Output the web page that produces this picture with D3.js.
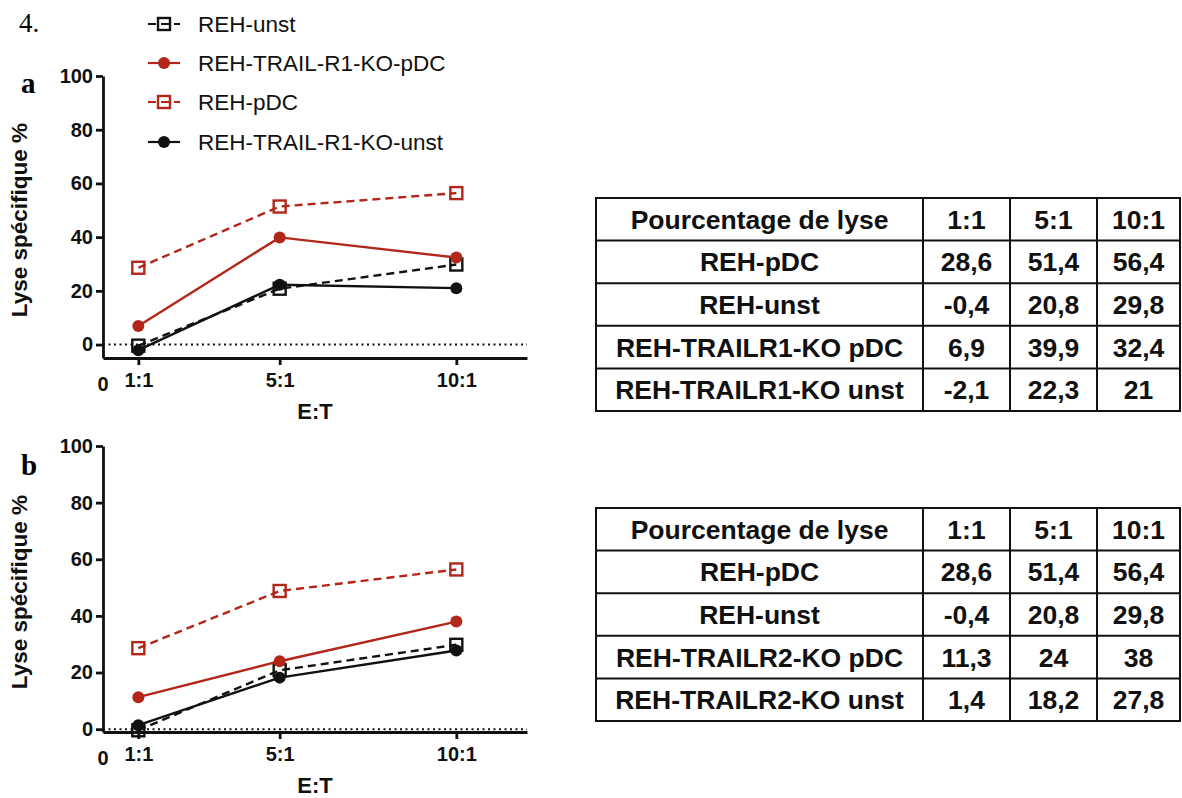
<!DOCTYPE html>
<html>
<head>
<meta charset="utf-8">
<script src="https://cdn.jsdelivr.net/npm/d3@7"></script>
<style>
  body { margin: 0; background: #fff; }
  svg { display: block; }
</style>
</head>
<body>
<div id="chart"></div>
<script>
// data
var etLabels = ["1:1", "5:1", "10:1"];
var etValues = [1, 5, 10];
var yTicks = [0, 20, 40, 60, 80, 100];

var rehPdc = [28.6, 51.4, 56.4];
var rehUnst = [-0.4, 20.8, 29.8];
var r1KoPdc = [6.9, 39.9, 32.4];
var r1KoUnst = [-2.1, 22.3, 21];
var r2KoPdc = [11.3, 24, 38];
var r2KoUnst = [1.4, 18.2, 27.8];
// panel b plots REH-pDC a bit lower at 5:1 than its table says
var rehPdcPlotB = [28.6, 48.8, 56.4];

var legendLabels = ["REH-unst", "REH-TRAIL-R1-KO-pDC", "REH-pDC", "REH-TRAIL-R1-KO-unst"];
var tableHeader = ["Pourcentage de lyse", "1:1", "5:1", "10:1"];
var tableRowsA = ["REH-pDC", "REH-unst", "REH-TRAILR1-KO pDC", "REH-TRAILR1-KO unst"];
var tableRowsB = ["REH-pDC", "REH-unst", "REH-TRAILR2-KO pDC", "REH-TRAILR2-KO unst"];

var red = "#b3261a";
var sans = "'Liberation Sans', Arial, sans-serif";
var serif = "'Liberation Serif', 'Times New Roman', serif";

// series style, same order as the legend
var styles = [
  { color: "#111", dash: "8,5", shape: "square" },
  { color: red, dash: null, shape: "circle" },
  { color: red, dash: "8,5", shape: "square" },
  { color: "#111", dash: null, shape: "circle" }
];

var svg = d3.select("#chart").append("svg")
  .attr("width", 1182)
  .attr("height", 798);

svg.append("text")
  .attr("x", 19).attr("y", 32)
  .style("font-family", serif)
  .style("font-size", "27px")
  .text("4.");

// legend
var legend = svg.append("g");
var legendY = [24, 63, 102, 142];
legendLabels.forEach(function (lab, i) {
  var st = styles[i];
  var g = legend.append("g").attr("transform", "translate(0," + legendY[i] + ")");
  g.append("line")
    .attr("x1", 148).attr("x2", 180)
    .attr("stroke", st.color).attr("stroke-width", 2.2)
    .attr("stroke-dasharray", st.dash);
  drawMarker(g, st, 164, 0);
  g.append("text")
    .attr("x", 198).attr("y", 0)
    .attr("dy", "0.35em")
    .style("font-family", sans)
    .style("font-size", "22.5px")
    .style("fill", "#111")
    .text(lab);
});

function drawMarker(g, st, cx, cy) {
  if (st.shape == "square") {
    g.append("rect")
      .attr("x", cx - 6).attr("y", cy - 6)
      .attr("width", 12).attr("height", 12)
      .attr("fill", "none")
      .attr("stroke", st.color).attr("stroke-width", 2.4);
  } else {
    g.append("circle")
      .attr("cx", cx).attr("cy", cy).attr("r", 6)
      .attr("fill", st.color);
  }
}

function drawPanel(letter, letterY, yRange, yMin, series) {
  var x = d3.scaleLinear().domain([0, 12]).range([103, 527]);
  var y = d3.scaleLinear().domain([yMin, 100]).range(yRange);
  var g = svg.append("g");

  svg.append("text")
    .attr("x", 21).attr("y", letterY)
    .style("font-family", serif)
    .style("font-weight", "bold")
    .style("font-size", "29px")
    .text(letter);

  // zero line
  g.append("line")
    .attr("x1", x(0)).attr("x2", x(12))
    .attr("y1", y(0)).attr("y2", y(0))
    .attr("stroke", "#111").attr("stroke-width", 2)
    .attr("stroke-dasharray", "2,3.5");

  var yAxis = g.append("g")
    .attr("transform", "translate(" + x(0) + ",0)")
    .call(d3.axisLeft(y).tickValues(yTicks).tickSize(7).tickSizeOuter(0).tickPadding(3));
  var xAxis = g.append("g")
    .attr("transform", "translate(0," + y(yMin) + ")")
    .call(d3.axisBottom(x).tickValues(etValues).tickSize(7).tickSizeOuter(0).tickPadding(8)
      .tickFormat(function (d, i) { return etLabels[i]; }));

  [yAxis, xAxis].forEach(function (ax) {
    ax.selectAll("path, line").attr("stroke", "#111").attr("stroke-width", 2.8);
    ax.selectAll("text")
      .style("font-family", sans)
      .style("font-weight", "bold")
      .style("font-size", "20px")
      .attr("fill", "#111");
  });

  g.append("text")
    .attr("x", x(0)).attr("y", y(yMin) + 33)
    .attr("text-anchor", "middle")
    .style("font-family", sans).style("font-weight", "bold").style("font-size", "20px")
    .attr("fill", "#111")
    .text("0");

  g.append("text")
    .attr("x", (x(0) + x(12)) / 2).attr("y", y(yMin) + 61)
    .attr("text-anchor", "middle")
    .style("font-family", sans).style("font-weight", "bold").style("font-size", "22px")
    .attr("fill", "#111")
    .text("E:T");

  var midY = (yRange[0] + yRange[1]) / 2 + 3;
  g.append("text")
    .attr("transform", "translate(27," + midY + ") rotate(-90)")
    .attr("text-anchor", "middle")
    .style("font-family", sans).style("font-weight", "bold").style("font-size", "22.5px")
    .attr("fill", "#111")
    .text("Lyse spécifique %");

  var line = d3.line()
    .x(function (d, i) { return x(etValues[i]); })
    .y(function (d) { return y(d); });

  series.forEach(function (vals, k) {
    var st = styles[k];
    g.append("path")
      .datum(vals)
      .attr("d", line)
      .attr("fill", "none")
      .attr("stroke", st.color).attr("stroke-width", 2.4)
      .attr("stroke-dasharray", st.dash);
    vals.forEach(function (v, i) {
      drawMarker(g, st, x(etValues[i]), y(v));
    });
  });
}

drawPanel("a", 93, [358, 76], -5, [rehUnst, r1KoPdc, rehPdc, r1KoUnst]);
drawPanel("b", 475, [732, 446], -1, [rehUnst, r2KoPdc, rehPdcPlotB, r2KoUnst]);

function fmt(v) { return String(v).replace(".", ","); }

function drawTable(top, rowNames, rows) {
  var colX = [596, 923, 1010, 1097, 1180];
  var rowH = 42.6;
  var g = svg.append("g");
  var cells = [tableHeader].concat(rowNames.map(function (n, i) {
    return [n].concat(rows[i].map(fmt));
  }));

  cells.forEach(function (r, ri) {
    r.forEach(function (c, ci) {
      g.append("text")
        .attr("x", (colX[ci] + colX[ci + 1]) / 2)
        .attr("y", top + rowH * ri + rowH / 2)
        .attr("dy", "0.36em")
        .attr("text-anchor", "middle")
        .style("font-family", sans)
        .style("font-weight", "bold")
        .style("font-size", "26.5px")
        .attr("fill", "#111")
        .text(c);
    });
  });

  for (var i = 0; i <= cells.length; i++) {
    g.append("line")
      .attr("x1", colX[0] - 1).attr("x2", colX[colX.length - 1] + 1)
      .attr("y1", top + rowH * i).attr("y2", top + rowH * i)
      .attr("stroke", "#111").attr("stroke-width", 2);
  }
  colX.forEach(function (cx) {
    g.append("line")
      .attr("x1", cx).attr("x2", cx)
      .attr("y1", top).attr("y2", top + rowH * cells.length)
      .attr("stroke", "#111").attr("stroke-width", 2);
  });
}

// table rows hold [1:1, 5:1, 10:1]
var tableA = [rehPdc, rehUnst, r1KoPdc, r1KoUnst];
var tableB = [rehPdc, rehUnst, r2KoPdc, r2KoUnst];
drawTable(198, tableRowsA, tableA);
drawTable(508, tableRowsB, tableB);
</script>
</body>
</html>
